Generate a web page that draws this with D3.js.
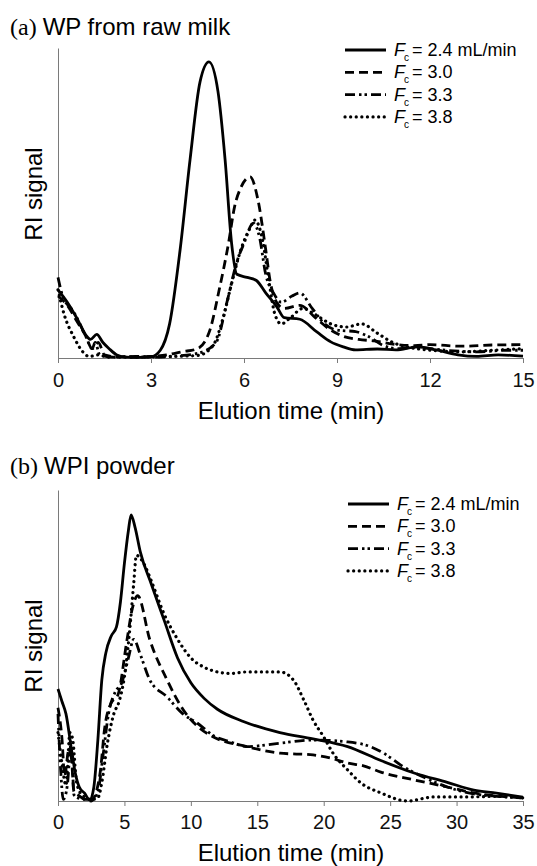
<!DOCTYPE html>
<html>
<head>
<meta charset="utf-8">
<script src="https://cdn.jsdelivr.net/npm/d3@7"></script>
<style>
  body { margin: 0; background: #fff; }
  svg { display: block; font-family: "Liberation Sans", Arial, sans-serif; }
</style>
</head>
<body>
<svg id="chart" width="537" height="866"></svg>
<script>
// Panel (a): WP from raw milk, [time (min), RI signal (a.u.)]
const rawFc24 = [[0,22],[0.3,18],[0.6,13],[0.9,7.4],[1.05,6],[1.25,7.6],[1.45,5],[1.65,3],[1.9,1],[2.2,0.3],[2.6,0.2],[3.0,0.4],[3.3,2.5],[3.6,11],[3.94,35],[4.26,64],[4.58,89],[4.87,95.5],[5.16,86],[5.39,64],[5.6,37],[5.77,27],[6.1,26],[6.4,25],[6.7,21],[7.06,16.5],[7.3,13],[7.8,12.5],[8.35,8.4],[8.8,5.2],[9.2,3.6],[9.6,2.6],[10.3,2.9],[10.9,2.6],[11.6,3.6],[12.2,2.6],[12.9,1],[13.5,0.5],[14.2,1],[15,0.6]];
const rawFc30 = [[0,20],[0.3,17],[0.6,12],[0.9,7],[1.1,3],[1.3,5],[1.5,1],[1.9,0.4],[2.5,0.3],[3.0,0.5],[3.5,1],[4.0,2],[4.5,3],[4.9,9],[5.2,22],[5.5,37],[5.7,49],[5.9,55],[6.2,58.4],[6.45,51],[6.7,35],[6.84,25],[7.05,18],[7.3,16],[7.8,17],[8.3,13],[8.8,9],[9.2,7],[9.7,6],[10.2,5.5],[10.8,4.5],[11.5,4],[12,4.3],[13,3.8],[14,4.2],[15,4.3]];
const rawFc33 = [[0,26],[0.15,20],[0.5,15],[0.9,7],[1.1,3],[1.2,5],[1.35,1],[1.8,0.3],[2.5,0.5],[3.2,0.3],[3.8,0.6],[4.5,1.5],[5.1,5],[5.45,18],[5.77,31],[6.0,37],[6.3,43.5],[6.5,39],[6.7,27],[6.95,21],[7.2,18],[7.55,20],[7.8,21],[8.2,16],[8.6,11],[9.0,9],[9.6,8.5],[10.0,7],[10.5,4],[11,3],[11.5,3.5],[12.5,2.5],[13.5,2],[14.5,2.5],[15,2.5]];
const rawFc38 = [[0,22],[0.2,14],[0.5,7],[0.8,2],[1.0,0.5],[1.3,1],[1.6,0.3],[2.5,0.3],[3.5,0.5],[4.5,0.8],[5.0,4],[5.3,12],[5.6,24],[5.9,35],[6.2,42],[6.35,44.5],[6.6,38],[6.8,25],[7.0,14],[7.2,11],[7.5,13],[7.9,16],[8.3,14],[8.8,11],[9.3,10],[9.8,11],[10.3,8],[10.8,5],[11.3,3.5],[12,2.5],[13,2],[14,2.5],[15,3]];

// Panel (b): WPI powder
const wpiFc24 = [[0,36],[0.3,32],[0.6,28],[1.0,17],[1.3,9],[1.6,4.5],[2.0,2.5],[2.4,0.3],[2.7,4.5],[3.0,19.6],[3.3,39],[3.6,47.6],[4.0,53],[4.4,56],[4.7,64],[5.0,76.5],[5.3,87],[5.5,92],[5.8,88],[6.2,80],[7,70],[8,58],[9,46],[10,38],[11,33],[12,29.5],[14,25.5],[16.7,22],[19.2,20],[21.8,17.5],[24.3,13],[26.8,9],[29.3,6],[31.3,3.5],[33,2.5],[35,1.2]];
const wpiFc30 = [[0,30],[0.3,20],[0.5,8],[0.8,16],[1.0,14],[1.2,3],[1.5,2],[2.0,0.5],[2.5,0],[2.8,2],[3.2,10],[3.5,23],[4.0,31.5],[4.5,34],[5.2,52],[5.6,62],[6.0,66],[6.9,52],[8.2,39],[9.4,29.5],[10.5,24],[11.7,20.6],[14.2,17.5],[16.7,15.4],[19.2,14.8],[20.5,13.8],[21.8,12.2],[23,11.3],[24.3,9.3],[26.8,6.8],[29.3,4.5],[31.3,2.6],[35,1]];
const wpiFc33 = [[0,28],[0.2,10],[0.4,0.5],[0.7,5],[1.0,19],[1.2,2],[1.5,1],[2.0,0.5],[2.6,0.5],[3.0,3],[3.4,15],[3.8,28],[4.3,35],[4.8,38],[5.3,46],[5.7,52],[6.2,47],[6.9,39],[8.2,33.5],[9.4,28],[10.5,25],[11.7,21],[13,19],[14.2,17.5],[16.7,18.6],[19.2,19.6],[21.8,19],[23.5,17.5],[24.5,15.4],[26,11],[27.5,7.7],[29.3,4.5],[31,2.5],[33,1.5],[35,1]];
const wpiFc38 = [[0,22],[0.3,12],[0.6,5],[0.9,22],[1.1,20],[1.4,6],[1.8,2],[2.5,0.5],[3.0,1],[3.3,6],[3.7,18],[4.2,28],[4.6,32],[5.0,40],[5.4,55],[5.7,70],[5.9,79],[6.5,76],[7,71],[8,60],[9,52],[10,46],[11,43],[12,41.5],[13,41],[14.2,41.5],[16.7,41.5],[17.7,39],[18.5,32.5],[19.2,26],[20,20.6],[20.7,15.4],[21.8,10],[22.8,5.8],[24.3,2.6],[26.3,0],[28.3,1.3],[30.8,1.3],[33,1.5],[35,1]];

const legendLabels = ['= 2.4 mL/min', '= 3.0', '= 3.3', '= 3.8'];
const rawTicks = [0, 3, 6, 9, 12, 15];
const wpiTicks = [0, 5, 10, 15, 20, 25, 30, 35];

// line styles for the four flow rates
const STYLES = [
    { dash: null, cap: 'butt' },
    { dash: '9,5', cap: 'butt' },
    { dash: '10,4,2.5,3,2.5,4', cap: 'butt' },
    { dash: '0.1,5.5', cap: 'round' }
];

const svg = d3.select('#chart');

function drawPanel(opts) {
    const x = d3.scaleLinear().domain(opts.xDomain).range([58, 523]);
    const y = d3.scaleLinear().domain([0, 100]).range([opts.bottom, opts.top]);

    // panel title: serif letter, sans text
    const title = svg.append('text')
        .attr('x', 10)
        .attr('y', opts.titleY)
        .attr('font-size', 24)
        .attr('fill', '#000');
    title.append('tspan')
        .attr('font-family', '"Liberation Serif", "Times New Roman", serif')
        .text(opts.letter + ' ');
    title.append('tspan').text(opts.title);

    // axes
    const xAxis = svg.append('g')
        .attr('transform', `translate(0,${opts.bottom})`)
        .call(d3.axisBottom(x).tickValues(opts.ticks).tickSize(5).tickSizeOuter(0).tickPadding(opts.tickPad));
    xAxis.select('.domain').attr('stroke', '#7a7a7a');
    xAxis.selectAll('.tick line').attr('stroke', '#7a7a7a');
    xAxis.selectAll('.tick text')
        .attr('font-size', 20)
        .attr('font-family', '"Liberation Sans", Arial, sans-serif')
        .attr('fill', '#111');

    const yAxis = svg.append('g')
        .attr('transform', 'translate(58,0)')
        .call(d3.axisLeft(y).tickValues([]).tickSizeOuter(0));
    yAxis.select('.domain').attr('stroke', '#7a7a7a');

    svg.append('text')
        .attr('transform', `translate(42,${opts.yTitleMid}) rotate(-90)`)
        .attr('text-anchor', 'middle')
        .attr('font-size', 24)
        .text('RI signal');

    svg.append('text')
        .attr('x', 291)
        .attr('y', opts.xTitleY)
        .attr('text-anchor', 'middle')
        .attr('font-size', 24)
        .text('Elution time (min)');

    // curves
    const line = d3.line()
        .x(d => x(d[0]))
        .y(d => y(Math.max(0, d[1])))
        .curve(d3.curveMonotoneX);

    opts.series.forEach((s, i) => {
        svg.append('path')
            .datum(s)
            .attr('fill', 'none')
            .attr('stroke', '#000')
            .attr('stroke-width', i === 3 ? 3.2 : 2.8)
            .attr('stroke-linecap', STYLES[i].cap)
            .attr('stroke-dasharray', STYLES[i].dash)
            .attr('d', line);
    });

    // legend
    const lg = svg.append('g');
    legendLabels.forEach((lab, i) => {
        const cy = opts.legendY + i * 22.3;
        lg.append('line')
            .attr('x1', opts.legendX).attr('x2', opts.legendX + 41)
            .attr('y1', cy).attr('y2', cy)
            .attr('stroke', '#000')
            .attr('stroke-width', i === 3 ? 3.2 : 2.8)
            .attr('stroke-linecap', STYLES[i].cap)
            .attr('stroke-dasharray', STYLES[i].dash);
        const t = lg.append('text')
            .attr('x', opts.legendX + 49)
            .attr('y', cy + 6)
            .attr('font-size', 18);
        t.append('tspan').attr('font-style', 'italic').text('F');
        t.append('tspan').attr('font-size', 10).attr('dy', 5).attr('dx', -1).text('c');
        t.append('tspan').attr('dy', -5).attr('dx', 3).text(lab);
    });
}

drawPanel({
    letter: '(a)', title: 'WP from raw milk', titleY: 35,
    top: 48, bottom: 358, xDomain: [0, 15], ticks: rawTicks, tickPad: 10,
    yTitleMid: 194, xTitleY: 419, legendX: 345, legendY: 50,
    series: [rawFc24, rawFc30, rawFc33, rawFc38]
});

drawPanel({
    letter: '(b)', title: 'WPI powder', titleY: 474,
    top: 490, bottom: 801, xDomain: [0, 35], ticks: wpiTicks, tickPad: 9,
    yTitleMid: 646, xTitleY: 861, legendX: 348, legendY: 504,
    series: [wpiFc24, wpiFc30, wpiFc33, wpiFc38]
});
</script>
</body>
</html>
